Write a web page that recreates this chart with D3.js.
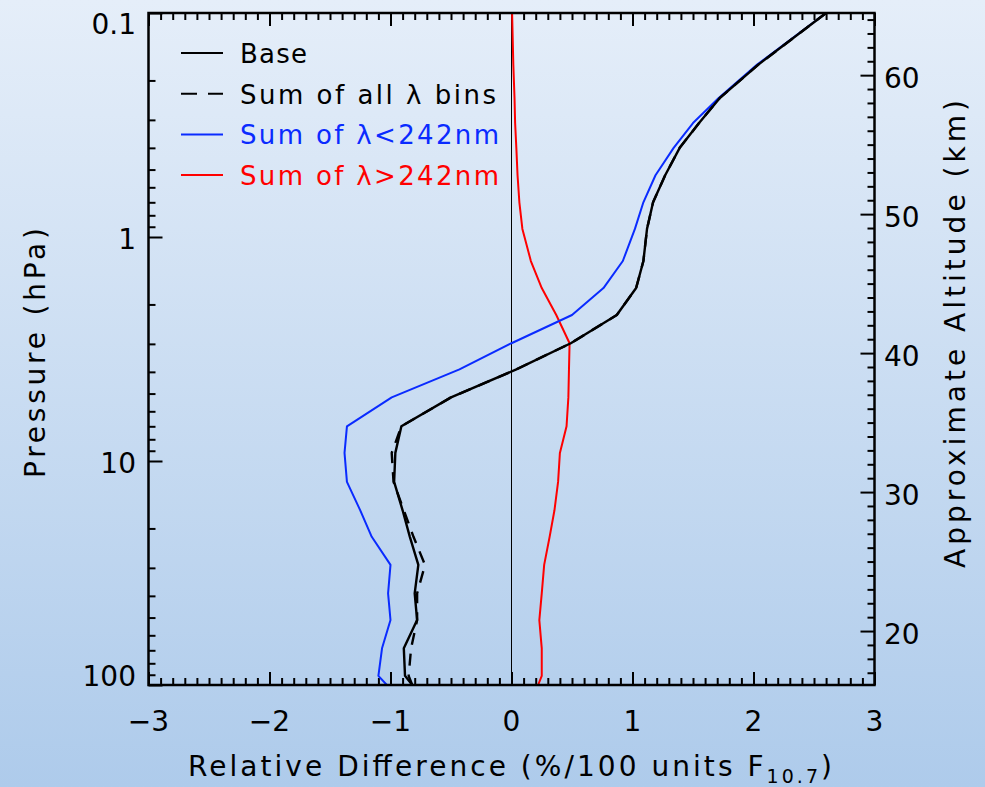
<!DOCTYPE html>
<html>
<head>
<meta charset="utf-8">
<script src="https://cdn.jsdelivr.net/npm/d3@7"></script>
<style>
  html, body { margin: 0; padding: 0; }
  svg text { font-family: "DejaVu Sans", sans-serif; fill: #000; }
</style>
</head>
<body>
<svg id="chart" width="985" height="787"></svg>
<script>
// pressure levels (hPa) shared by all profiles
const pressure = [0.1, 0.17, 0.24, 0.31, 0.40, 0.53, 0.70, 0.92, 1.28, 1.69, 2.23, 2.98, 3.9, 5.2, 7.0, 9.2, 12.4, 16.6, 21.8, 29.1, 39, 51.3, 68.6, 91, 100];

// relative difference (%/100 units F10.7)
const base    = [2.60, 2.04, 1.72, 1.55, 1.39, 1.27, 1.17, 1.12, 1.09, 1.03, 0.87, 0.49, 0.04, -0.50, -0.91, -0.96, -0.97, -0.90, -0.84, -0.77, -0.80, -0.78, -0.89, -0.88, -0.82];
const sumAll  = [2.60, 2.04, 1.72, 1.55, 1.39, 1.27, 1.17, 1.12, 1.09, 1.03, 0.87, 0.49, 0.04, -0.50, -0.91, -0.99, -0.975, -0.89, -0.81, -0.715, -0.78, -0.78, -0.83, -0.85, -0.82];
const sumLow  = [2.60, 2.03, 1.71, 1.50, 1.34, 1.19, 1.09, 1.02, 0.92, 0.76, 0.50, 0.00, -0.43, -0.99, -1.36, -1.38, -1.36, -1.25, -1.155, -1.00, -1.02, -1.00, -1.07, -1.10, -1.03];
const sumHigh = [0.005, 0.015, 0.025, 0.03, 0.04, 0.05, 0.065, 0.09, 0.16, 0.25, 0.37, 0.48, 0.475, 0.47, 0.455, 0.40, 0.385, 0.355, 0.315, 0.27, 0.25, 0.23, 0.25, 0.25, 0.22];

const xTicks = [-3, -2, -1, 0, 1, 2, 3];
const pTicks = [0.1, 1, 10, 100];
const pTickLabels = ["0.1", "1", "10", "100"];
const altTicks = [20, 30, 40, 50, 60];

const svg = d3.select("#chart");
const W = 985, H = 787;
const mLeft = 148.5, mRight = 874.5, mTop = 13, mBottom = 685;

// background gradient
const defs = svg.append("defs");
const grad = defs.append("linearGradient").attr("id", "bg")
  .attr("x1", 0).attr("y1", 0).attr("x2", 0).attr("y2", 1);
grad.append("stop").attr("offset", "0%").attr("stop-color", "#e5eef9");
grad.append("stop").attr("offset", "100%").attr("stop-color", "#aecbeb");
svg.append("rect").attr("width", W).attr("height", H).attr("fill", "url(#bg)");

const x = d3.scaleLinear().domain([-3, 3]).range([mLeft, mRight]);
const y = d3.scaleLog().domain([0.1, 100]).range([mTop, mBottom]);
// approximate altitude z = 7 ln(1000/p)
const altOf = p => 7 * Math.log(1000 / p);
const alt = d3.scaleLinear().domain([altOf(100), altOf(0.1)]).range([mBottom, mTop]);

// minor tick values
const xMinor = d3.range(-30, 31).map(d => d / 10).filter(d => !xTicks.includes(d));
const pMinor = [];
[0.1, 1, 10].forEach(dec => { for (let k = 2; k <= 9; k++) pMinor.push(dec * k); });
const altMinor = d3.range(17, 65).filter(d => !altTicks.includes(d));

function tickAxis(axis, tx, ty) {
  const g = svg.append("g").attr("transform", `translate(${tx},${ty})`).call(axis);
  g.select(".domain").remove();
  g.selectAll("text").remove();
  g.selectAll("line").attr("stroke", "#000").attr("stroke-width", 2);
  return g;
}

// bottom / top x ticks
tickAxis(d3.axisTop(x).tickValues(xTicks).tickSize(13), 0, mBottom);
tickAxis(d3.axisTop(x).tickValues(xMinor).tickSize(7), 0, mBottom);
tickAxis(d3.axisBottom(x).tickValues(xTicks).tickSize(13), 0, mTop);
tickAxis(d3.axisBottom(x).tickValues(xMinor).tickSize(7), 0, mTop);
// left pressure ticks
tickAxis(d3.axisRight(y).tickValues(pTicks).tickSize(14), mLeft, 0);
tickAxis(d3.axisRight(y).tickValues(pMinor).tickSize(7), mLeft, 0);
// right altitude ticks
tickAxis(d3.axisLeft(alt).tickValues(altTicks).tickSize(14), mRight, 0);
tickAxis(d3.axisLeft(alt).tickValues(altMinor).tickSize(7), mRight, 0);

// zero line
svg.append("line")
  .attr("x1", x(0)).attr("x2", x(0)).attr("y1", mTop).attr("y2", mBottom)
  .attr("stroke", "#000").attr("stroke-width", 1);

// profiles
const line = d3.line().x(d => x(d[0])).y(d => y(d[1]));
const series = [
  { vals: sumHigh, color: "#ff0000", width: 2, dash: null },
  { vals: sumLow, color: "#0a2bff", width: 2, dash: null },
  { vals: sumAll, color: "#000", width: 2.4, dash: "12,9" },
  { vals: base, color: "#000", width: 2.4, dash: null },
];
series.forEach(s => {
  svg.append("path")
    .datum(s.vals.map((v, i) => [v, pressure[i]]))
    .attr("d", line)
    .attr("fill", "none")
    .attr("stroke", s.color)
    .attr("stroke-width", s.width)
    .attr("stroke-linejoin", "round")
    .attr("stroke-dasharray", s.dash);
});

// frame
svg.append("rect")
  .attr("x", mLeft).attr("y", mTop)
  .attr("width", mRight - mLeft).attr("height", mBottom - mTop)
  .attr("fill", "none").attr("stroke", "#000").attr("stroke-width", 2.5);

// tick labels
svg.append("g").selectAll("text").data(xTicks).enter().append("text")
  .attr("x", d => x(d)).attr("y", 721)
  .attr("text-anchor", "middle").attr("dominant-baseline", "central")
  .style("font-size", "28px")
  .text(d => d < 0 ? "\u2212" + Math.abs(d) : d);

svg.append("g").selectAll("text").data(pTicks).enter().append("text")
  .attr("x", 136)
  .attr("y", d => Math.min(Math.max(y(d) + 2, 24), 676))
  .attr("text-anchor", "end").attr("dominant-baseline", "central")
  .style("font-size", "28px")
  .text((d, i) => pTickLabels[i]);

svg.append("g").selectAll("text").data(altTicks).enter().append("text")
  .attr("x", 884)
  .attr("y", d => alt(d) + 3)
  .attr("dominant-baseline", "central")
  .style("font-size", "28px")
  .text(d => d);

// axis titles
const xt = svg.append("text")
  .attr("x", 188).attr("y", 776)
  .attr("textLength", 644).attr("lengthAdjust", "spacing")
  .style("font-size", "28px");
xt.append("tspan").text("Relative Difference (%/100 units F");
xt.append("tspan").attr("dy", 7).style("font-size", "19px").text("10.7");
xt.append("tspan").attr("dy", -7).text(")");

svg.append("text")
  .attr("transform", "translate(35,353) rotate(-90)")
  .attr("text-anchor", "middle").attr("dominant-baseline", "central")
  .attr("textLength", 250).attr("lengthAdjust", "spacing")
  .style("font-size", "28px")
  .text("Pressure (hPa)");

svg.append("text")
  .attr("transform", "translate(955,334) rotate(-90)")
  .attr("text-anchor", "middle").attr("dominant-baseline", "central")
  .attr("textLength", 468).attr("lengthAdjust", "spacing")
  .style("font-size", "28px")
  .text("Approximate Altitude (km)");

// legend
const legend = [
  { label: "Base", color: "#000", dash: null, len: 67 },
  { label: "Sum of all \u03bb bins", color: "#000", dash: "16,11", len: 256 },
  { label: "Sum of \u03bb<242nm", color: "#0a2bff", dash: null, len: 259 },
  { label: "Sum of \u03bb>242nm", color: "#ff0000", dash: null, len: 259 },
];
const lg = svg.append("g");
legend.forEach((d, i) => {
  const ly = 53 + i * 40.7;
  lg.append("line")
    .attr("x1", 181).attr("x2", 223).attr("y1", ly).attr("y2", ly)
    .attr("stroke", d.color).attr("stroke-width", 2)
    .attr("stroke-dasharray", d.dash);
  lg.append("text")
    .attr("x", 240).attr("y", ly + 1)
    .attr("dominant-baseline", "central")
    .attr("textLength", d.len).attr("lengthAdjust", "spacing")
    .style("font-size", "26px")
    .style("fill", d.color)
    .text(d.label);
});
</script>
</body>
</html>
